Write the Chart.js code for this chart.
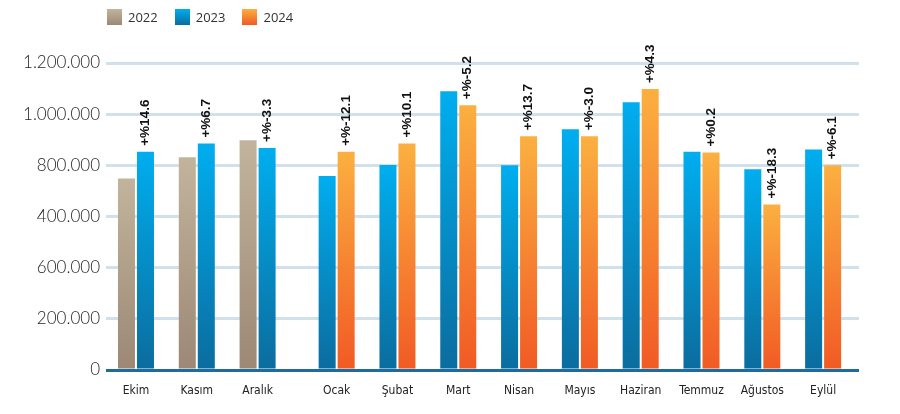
<!DOCTYPE html>
<html lang="tr">
<head>
<meta charset="utf-8">
<script src="https://cdn.jsdelivr.net/npm/chart.js@4.4.1/dist/chart.umd.min.js"></script>
<style>
  body { margin: 0; background: #fff; }
  #kutu { position: relative; width: 900px; height: 414px; }
  #lejant { position: absolute; left: 107px; top: 9px; display: flex; font: 13px "Open Sans", sans-serif; color: #333; }
  .oge { display: flex; align-items: center; margin-right: 17px; height: 16px; }
  .renk { width: 15px; height: 16px; margin-right: 6px; }
</style>
</head>
<body>
<div id="kutu">
  <canvas id="grafik"></canvas>
  <div id="lejant"></div>
</div>
<script>
// veriler
const aylar = ["Ekim", "Kasım", "Aralık", "Ocak", "Şubat", "Mart", "Nisan", "Mayıs", "Haziran", "Temmuz", "Ağustos", "Eylül"];
const yillar = ["2022", "2023", "2024"];
const deger2022 = [749000, 832000, 898000, null, null, null, null, null, null, null, null, null];
const deger2023 = [853000, 885000, 868000, 758000, 801000, 1090000, 800000, 941000, 1047000, 853000, 785000, 862000];
const deger2024 = [null, null, null, 853000, 885000, 1035000, 914000, 914000, 1098000, 850000, 647000, 800000];
const degisim = ["+%14.6", "+%6.7", "+%-3.3", "+%-12.1", "+%10.1", "+%-5.2", "+%13.7", "+%-3.0", "+%4.3", "+%0.2", "+%-18.3", "+%-6.1"];
const yEtiketleri = ["0", "200.000", "600.000", "400.000", "800.000", "1.000.000", "1.200.000"];

// renkler (ust, alt)
const renkler = [["#c2b49c", "#9c8875"], ["#00aeef", "#0b6c9e"], ["#fbb040", "#f15a24"]];

// Ekim-Aralik ile Ocak arasinda biraz bosluk var
const konum = aylar.map((a, i) => i < 3 ? i : i + 0.3);

function dolgu(ust, alt) {
  return c => {
    const ch = c.chart;
    if (!ch.chartArea || !c.raw || c.raw.y == null) return alt;
    const y0 = ch.scales.y.getPixelForValue(c.raw.y);
    const y1 = ch.scales.y.getPixelForValue(0);
    const g = ch.ctx.createLinearGradient(0, y0, 0, y1);
    g.addColorStop(0, ust);
    g.addColorStop(1, alt);
    return g;
  };
}

const seriler = [deger2022, deger2023, deger2024];

const etiketEklentisi = {
  id: "degisimEtiketleri",
  afterDatasetsDraw(chart) {
    const ctx = chart.ctx;
    ctx.save();
    ctx.font = "bold 13.5px 'Liberation Sans', Arial, sans-serif";
    ctx.fillStyle = "#111";
    ctx.textAlign = "left";
    ctx.textBaseline = "middle";
    degisim.forEach((t, i) => {
      const di = deger2024[i] != null ? 2 : 1;
      const el = chart.getDatasetMeta(di).data[i];
      ctx.save();
      ctx.translate(el.x, el.y - 6);
      ctx.rotate(-Math.PI / 2);
      ctx.fillText(t, 0, 0);
      ctx.restore();
    });
    ctx.restore();
  }
};

new Chart(document.getElementById("grafik"), {
  type: "bar",
  data: {
    datasets: seriler.map((s, k) => ({
      label: yillar[k],
      data: s.map((v, i) => ({ x: konum[i], y: v })),
      backgroundColor: dolgu(renkler[k][0], renkler[k][1]),
      borderWidth: 0,
      categoryPercentage: 0.625,
      barPercentage: 0.895,
      skipNull: true
    }))
  },
  options: {
    responsive: true,
    maintainAspectRatio: false,
    animation: false,
    layout: { padding: { top: 63, right: 41, left: 0, bottom: 0 } },
    plugins: { legend: { display: false }, tooltip: { enabled: false } },
    scales: {
      x: {
        type: "linear",
        offset: false,
        min: -0.493,
        max: 11.89,
        grid: { display: false, drawTicks: false },
        border: { display: false },
        afterBuildTicks: s => { s.ticks = konum.map(v => ({ value: v })); },
        afterFit: s => { s.height = 44; },
        ticks: {
          autoSkip: false,
          maxRotation: 0,
          padding: 14,
          color: "#222",
          font: { family: "'DejaVu Sans Condensed', 'Liberation Sans Narrow', sans-serif", size: 12 },
          callback: (v, i) => aylar[i]
        }
      },
      y: {
        min: 0,
        max: 1200000,
        afterFit: s => { s.width = 106; },
        border: { display: false },
        grid: {
          drawTicks: false,
          lineWidth: 3,
          color: c => c.tick && c.tick.value === 0 ? "#1d6c9b" : "#d0e1ec"
        },
        ticks: {
          stepSize: 200000,
          padding: 6,
          color: "#1e1e1e",
          font: { family: "Lato, sans-serif", size: 17, weight: 300 },
          callback: (v, i) => yEtiketleri[i]
        }
      }
    }
  },
  plugins: [etiketEklentisi]
});

// lejant
const lejant = document.getElementById("lejant");
yillar.forEach((y, k) => {
  const d = document.createElement("div");
  d.className = "oge";
  d.innerHTML = '<span class="renk" style="background:linear-gradient(' + renkler[k][0] + ',' + renkler[k][1] + ')"></span>' + y;
  lejant.appendChild(d);
});
</script>
</body>
</html>
